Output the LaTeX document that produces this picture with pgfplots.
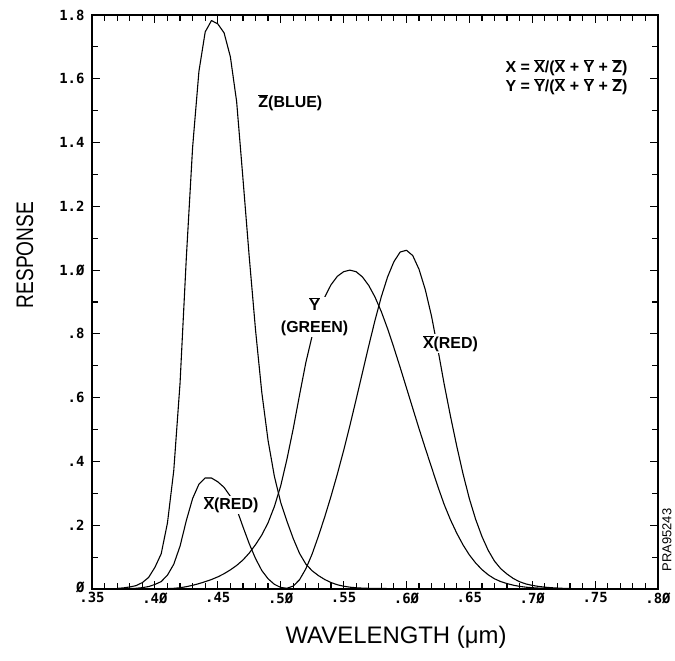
\documentclass[border=0pt]{standalone}
\usepackage{fontspec}
\setmainfont{Liberation Sans}
\newfontfamily\tickfont{DejaVu Sans Mono}
\usepackage{pgfplots}
\pgfplotsset{compat=1.18}
\usepackage{pgfplotstable}

\newcommand\ob[1]{$\overline{\mbox{#1}}$}
\newcommand\fs[1]{\fontsize{#1}{#1}\selectfont}

% colour matching functions, wavelength in um
\pgfplotstableread{
wl    xbar     ybar     zbar
0.370 0.000415 0.000012 0.001946
0.375 0.000742 0.000022 0.003486
0.380 0.001368 0.000039 0.006450
0.385 0.002236 0.000064 0.010550
0.390 0.004243 0.000120 0.020050
0.395 0.007650 0.000217 0.036210
0.400 0.014310 0.000396 0.067850
0.405 0.023190 0.000640 0.110200
0.410 0.043510 0.001210 0.207400
0.415 0.077630 0.002180 0.371300
0.420 0.134380 0.004000 0.645600
0.425 0.214770 0.007300 1.039050
0.430 0.283900 0.011600 1.385600
0.435 0.328500 0.016840 1.622960
0.440 0.348280 0.023000 1.747060
0.445 0.348060 0.029800 1.782600
0.450 0.336200 0.038000 1.772110
0.455 0.318700 0.048000 1.744100
0.460 0.290800 0.060000 1.669200
0.465 0.251100 0.073900 1.528100
0.470 0.195360 0.090980 1.287640
0.475 0.142100 0.112600 1.041900
0.480 0.095640 0.139020 0.812950
0.485 0.057950 0.169300 0.616200
0.490 0.032010 0.208020 0.465180
0.495 0.014700 0.258600 0.353300
0.500 0.004900 0.323000 0.272000
0.505 0.002400 0.407300 0.212300
0.510 0.009300 0.503000 0.158200
0.515 0.029100 0.608200 0.111700
0.520 0.063270 0.710000 0.078250
0.525 0.109600 0.793200 0.057250
0.530 0.165500 0.862000 0.042160
0.535 0.225750 0.914850 0.029840
0.540 0.290400 0.954000 0.020300
0.545 0.359700 0.980300 0.013400
0.550 0.433450 0.994950 0.008750
0.555 0.512050 1.000000 0.005750
0.560 0.594500 0.995000 0.003900
0.565 0.678400 0.978600 0.002750
0.570 0.762100 0.952000 0.002100
0.575 0.842500 0.915400 0.001800
0.580 0.916300 0.870000 0.001650
0.585 0.978600 0.816300 0.001400
0.590 1.026300 0.757000 0.001100
0.595 1.056700 0.694900 0.001000
0.600 1.062200 0.631000 0.000800
0.605 1.045600 0.566800 0.000600
0.610 1.002600 0.503000 0.000340
0.615 0.938400 0.441200 0.000240
0.620 0.854450 0.381000 0.000190
0.625 0.751400 0.321000 0.000100
0.630 0.642400 0.265000 0.000050
0.635 0.541900 0.217000 0.000030
0.640 0.447900 0.175000 0.000020
0.645 0.360800 0.138200 0.000010
0.650 0.283500 0.107000 0
0.655 0.218700 0.081600 0
0.660 0.164900 0.061000 0
0.665 0.121200 0.044580 0
0.670 0.087400 0.032000 0
0.675 0.063600 0.023200 0
0.680 0.046770 0.017000 0
0.685 0.032900 0.011920 0
0.690 0.022700 0.008210 0
0.695 0.015840 0.005723 0
0.700 0.011359 0.004102 0
0.705 0.008111 0.002929 0
0.710 0.005790 0.002091 0
0.715 0.004109 0.001484 0
0.720 0.002899 0.001047 0
0.725 0.002049 0.000740 0
0.730 0.001440 0.000520 0
}\cmf

\begin{document}
\begin{tikzpicture}
\begin{axis}[
    scale only axis,
    width=566bp, height=574bp,
    xmin=0.35, xmax=0.80, ymin=0, ymax=1.8,
    xtick={0.35,0.40,0.45,0.50,0.55,0.60,0.65,0.70,0.75,0.80},
    xticklabels={.35,.4Ø,.45,.5Ø,.55,.6Ø,.65,.7Ø,.75,.8Ø},
    ytick={0,0.2,0.4,0.6,0.8,1.0,1.2,1.4,1.6,1.8},
    yticklabels={\raisebox{4bp}{Ø},.2,.4,.6,.8,1.Ø,1.2,1.4,1.6,1.8},
    extra x ticks={0.36,0.37,0.38,0.39,0.41,0.42,0.43,0.44,0.46,0.47,0.48,0.49,
                   0.51,0.52,0.53,0.54,0.56,0.57,0.58,0.59,0.61,0.62,0.63,0.64,
                   0.66,0.67,0.68,0.69,0.71,0.72,0.73,0.74,0.76,0.77,0.78,0.79},
    extra y ticks={0.1,0.3,0.5,0.7,0.9,1.1,1.3,1.5,1.7},
    extra x tick labels={},
    extra y tick labels={},
    extra tick style={major tick length=6bp, tick style={black, line width=1.2bp}},
    tick align=inside,
    major tick length=8bp,
    axis line style={line width=1.5bp},
    tick style={black, line width=1.1bp},
    tick label style={font=\tickfont\bfseries\fs{14}},
    yticklabel style={xshift=-4bp},
]
\addplot[black, line width=1.1bp, line join=round] table[x=wl, y=zbar] {\cmf};
\addplot[black, line width=1.1bp, line join=round] table[x=wl, y=ybar] {\cmf};
\addplot[black, line width=1.1bp, line join=round] table[x=wl, y=xbar] {\cmf};

\node[fill=white, inner sep=1.5bp, anchor=west, font=\bfseries\fs{16}]
    at (axis cs:0.481,1.525) {\ob{Z}(BLUE)};
\node[fill=white, inner sep=1bp, align=center, font=\bfseries\fontsize{16}{22}\selectfont]
    at (axis cs:0.527,0.853) {\ob{Y}\\(GREEN)};
\node[fill=white, inner sep=1bp, font=\bfseries\fs{16}]
    at (axis cs:0.635,0.77) {\ob{X}(RED)};
\node[fill=white, inner sep=1bp, font=\bfseries\fs{16}]
    at (axis cs:0.4605,0.264) {\ob{X}(RED)};
\node[anchor=west, align=left, font=\bfseries\fontsize{16}{19}\selectfont]
    at (axis cs:0.676,1.605)
    {X = \ob{X}/(\ob{X} + \ob{Y} + \ob{Z})\\Y = \ob{Y}/(\ob{X} + \ob{Y} + \ob{Z})};
\end{axis}

\node[font=\fs{24}, rotate=90] at ([shift={(-67bp,334bp)}]current axis.south west)
    {\scalebox{0.8}[1]{RESPONSE}};
\node[font=\fs{24}] at ([shift={(304bp,-48bp)}]current axis.south west)
    {WAVELENGTH (μm)};
\node[font=\fs{13}, rotate=90] at ([shift={(9bp,49bp)}]current axis.south east)
    {PRA95243};

\pgfresetboundingbox
\path[use as bounding box] ([shift={(-92bp,-71bp)}]current axis.south west)
    rectangle ([shift={(17bp,15bp)}]current axis.north east);
\end{tikzpicture}
\end{document}
